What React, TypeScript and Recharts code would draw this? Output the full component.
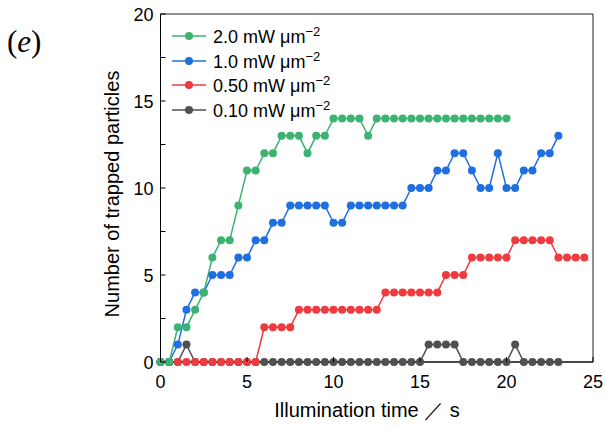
import React from 'react';
import { LineChart, Line, XAxis, YAxis, ReferenceArea, Legend } from 'recharts';

// illumination time (s), one sample every 0.5 s
const times = [
  0, 0.5, 1, 1.5, 2, 2.5, 3, 3.5, 4, 4.5, 5, 5.5, 6, 6.5, 7, 7.5, 8, 8.5, 9, 9.5,
  10, 10.5, 11, 11.5, 12, 12.5, 13, 13.5, 14, 14.5, 15, 15.5, 16, 16.5, 17, 17.5,
  18, 18.5, 19, 19.5, 20, 20.5, 21, 21.5, 22, 22.5, 23, 23.5, 24, 24.5,
];

const p20 = [
  0, 0, 2, 2, 3, 4, 6, 7, 7, 9, 11, 11, 12, 12, 13, 13, 13, 12, 13, 13,
  14, 14, 14, 14, 13, 14, 14, 14, 14, 14, 14, 14, 14, 14, 14, 14,
  14, 14, 14, 14, 14,
];
const p10 = [
  0, 0, 1, 3, 4, 4, 5, 5, 5, 6, 6, 7, 7, 8, 8, 9, 9, 9, 9, 9,
  8, 8, 9, 9, 9, 9, 9, 9, 9, 10, 10, 10, 11, 11, 12, 12,
  11, 10, 10, 12, 10, 10, 11, 11, 12, 12, 13,
];
const p05 = [
  0, 0, 0, 0, 0, 0, 0, 0, 0, 0, 0, 0, 2, 2, 2, 2, 3, 3, 3, 3,
  3, 3, 3, 3, 3, 3, 4, 4, 4, 4, 4, 4, 4, 5, 5, 5,
  6, 6, 6, 6, 6, 7, 7, 7, 7, 7, 6, 6, 6, 6,
];
const p01 = [
  0, 0, 0, 1, 0, 0, 0, 0, 0, 0, 0, 0, 0, 0, 0, 0, 0, 0, 0, 0,
  0, 0, 0, 0, 0, 0, 0, 0, 0, 0, 0, 1, 1, 1, 1, 0,
  0, 0, 0, 0, 0, 1, 0, 0, 0, 0, 0,
];

const xTicks = [0, 5, 10, 15, 20, 25];
const yTicks = [0, 2.5, 5, 7.5, 10, 12.5, 15, 17.5, 20];

const series = [
  { key: 'p01', label: '0.10', color: '#505050', values: p01 },
  { key: 'p05', label: '0.50', color: '#ef3b3f', values: p05 },
  { key: 'p10', label: '1.0', color: '#1f6fe0', values: p10 },
  { key: 'p20', label: '2.0', color: '#3cb371', values: p20 },
];

const data = times.map((t, i) => {
  const row: Record<string, number | null> = { t };
  series.forEach((s) => {
    row[s.key] = i < s.values.length ? s.values[i] : null;
  });
  return row;
});

const FONT = '"Liberation Sans", Arial, sans-serif';

const XTick = ({ x, y, payload }: any) => (
  <g>
    <line x1={x} x2={x} y1={y - 4} y2={y - 9} stroke="#000" />
    <text x={x} y={y} dy={22} textAnchor="middle" fontSize={18} fontFamily={FONT} fill="#000">
      {payload.value}
    </text>
  </g>
);

const YTick = ({ x, y, payload }: any) => {
  const major = payload.value % 5 === 0;
  return (
    <g>
      <line x1={x + 7} x2={x + 12} y1={y} y2={y} stroke="#000" />
      {major && (
        <text x={x} y={y} dy={6.5} textAnchor="end" fontSize={18} fontFamily={FONT} fill="#000">
          {payload.value}
        </text>
      )}
    </g>
  );
};

const renderLegend = () => (
  <div style={{ fontFamily: FONT, fontSize: 18, color: '#000' }}>
    {[...series].reverse().map((s) => (
      <div key={s.key} style={{ display: 'flex', alignItems: 'center', height: 24.5 }}>
        <svg width={40} height={24}>
          <line x1={4} x2={38} y1={12} y2={12} stroke={s.color} strokeWidth={1.5} />
          <circle cx={21} cy={12} r={4} fill={s.color} />
        </svg>
        <span style={{ marginLeft: 5 }}>
          {s.label} mW μm<sup style={{ fontSize: 13 }}>−2</sup>
        </span>
      </div>
    ))}
  </div>
);

export default function App() {
  return (
    <div style={{ position: 'absolute', left: 0, top: 0, width: 605, height: 426, background: '#fff' }}>
      <LineChart width={605} height={426} data={data} margin={{ top: 14, right: 12, bottom: 34, left: 120.5 }}>
        <XAxis
          dataKey="t"
          type="number"
          domain={[0, 25]}
          ticks={xTicks}
          interval={0}
          tickSize={0}
          tickMargin={4}
          tick={<XTick />}
          height={30}
          stroke="#000"
        />
        <YAxis
          type="number"
          domain={[0, 20]}
          ticks={yTicks}
          interval={0}
          tickSize={0}
          tickMargin={7}
          tick={<YTick />}
          width={40}
          stroke="#000"
        />
        <ReferenceArea x1={0} x2={25} y1={0} y2={20} fill="none" stroke="#222" strokeWidth={1} />
        <Legend
          layout="vertical"
          align="center"
          verticalAlign="middle"
          content={renderLegend}
          wrapperStyle={{ position: 'absolute', left: 168, top: 24, width: 'auto', height: 'auto' }}
        />
        {series.map((s) => (
          <Line
            key={s.key}
            dataKey={s.key}
            stroke={s.color}
            strokeWidth={1.5}
            dot={{ r: 4, fill: s.color, stroke: 'none' }}
            activeDot={false}
            isAnimationActive={false}
          />
        ))}
      </LineChart>
      <div style={{ position: 'absolute', left: 7, top: 25, fontFamily: '"Liberation Serif", serif', fontSize: 31, lineHeight: '34px' }}>
        (<i>e</i>)
      </div>
      <div
        style={{
          position: 'absolute', left: 112 - 150, top: 194 - 13, width: 300, height: 26, lineHeight: '26px',
          textAlign: 'center', transform: 'rotate(-90deg)', fontFamily: FONT, fontSize: 20,
        }}
      >
        Number of trapped particles
      </div>
      <div
        style={{
          position: 'absolute', left: 367 - 150, top: 410 - 13, width: 300, height: 26, lineHeight: '26px',
          textAlign: 'center', fontFamily: FONT, fontSize: 20,
        }}
      >
        Illumination time ／ s
      </div>
    </div>
  );
}
